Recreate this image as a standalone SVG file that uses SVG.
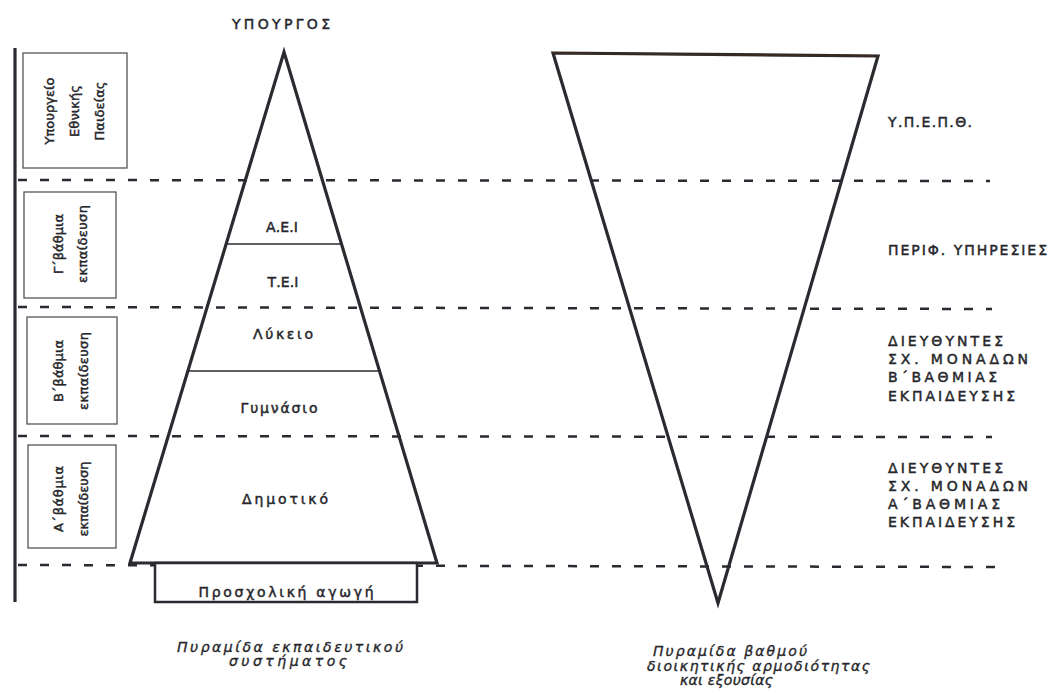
<svg xmlns="http://www.w3.org/2000/svg" width="1055" height="693" viewBox="0 0 1055 693">
<style>
.t{font-family:"DejaVu Sans","Liberation Sans",sans-serif;font-size:14px;fill:#26262b;stroke:#26262b;stroke-width:0.45}
.s{font-size:13px}
.c{text-anchor:middle}
.i{font-family:"DejaVu Sans","Liberation Sans",sans-serif;font-style:italic;font-size:14px;fill:#26262b;stroke:#26262b;stroke-width:0.35}
.dash{stroke:#2a2a30;stroke-width:2.5;stroke-dasharray:9 13;fill:none}
.thick{stroke:#2a2a30;stroke-width:3.2;fill:none;stroke-linejoin:miter}
.thin{stroke:#2a2a30;stroke-width:1.4;fill:none}
.box{stroke:#55555a;stroke-width:1.3;fill:#fff}
</style>
<rect width="1055" height="693" fill="#fff"/>
<g id="connectors">
<line x1="15" y1="48" x2="15" y2="602" class="thick"/>
<line x1="18" y1="180" x2="990" y2="181" class="dash"/>
<line x1="18" y1="307" x2="992" y2="309" class="dash"/>
<line x1="18" y1="436" x2="992" y2="437" class="dash"/>
<line x1="18" y1="565" x2="996" y2="567" class="dash"/>
</g>
<g id="box-ypourgeio">
<rect x="23" y="53" width="104" height="115" class="box"/>
<g transform="translate(75,111) rotate(-90)">
<text class="t s c" x="0" y="-21" textLength="67">Υπουργείο</text>
<text class="t s c" x="0" y="4" textLength="52">Εθνικής</text>
<text class="t s c" x="0" y="29" textLength="59">Παιδείας</text>
</g>
</g>
<g id="box-g">
<rect x="24" y="192" width="92" height="106" class="box"/>
<g transform="translate(71,244) rotate(-90)">
<text class="t s c" x="0" y="-8" textLength="60">Γ΄βάθμια</text>
<text class="t s c" x="0" y="16" textLength="78">εκπαίδευση</text>
</g>
</g>
<g id="box-b">
<rect x="27" y="317" width="90" height="107" class="box"/>
<g transform="translate(71,371) rotate(-90)">
<text class="t s c" x="0" y="-8" textLength="62">Β΄βάθμια</text>
<text class="t s c" x="0" y="17" textLength="78">εκπαίδευση</text>
</g>
</g>
<g id="box-a">
<rect x="28" y="445" width="88" height="103" class="box"/>
<g transform="translate(71,499) rotate(-90)">
<text class="t s c" x="0" y="-8" textLength="66">Α΄βάθμια</text>
<text class="t s c" x="0" y="17" textLength="75">εκπαίδευση</text>
</g>
</g>
<g id="title-ypourgos">
<text class="t c" x="281" y="29" textLength="98">ΥΠΟΥΡΓΟΣ</text>
</g>
<g id="pyramid-education">
<polygon points="284,52 437,563 130,563" class="thick"/>
<line x1="226" y1="244" x2="342" y2="244" class="thin"/>
<line x1="189" y1="371" x2="380" y2="371" class="thin"/>
<text class="t c" x="282" y="232" textLength="32">Α.Ε.Ι</text>
<text class="t c" x="283" y="287" textLength="31">Τ.Ε.Ι</text>
<text class="t c" x="283" y="339" textLength="60">Λύκειο</text>
<text class="t c" x="279" y="413" textLength="77">Γυμνάσιο</text>
<text class="t c" x="285" y="504" textLength="86">Δημοτικό</text>
</g>
<g id="box-prosxoliki">
<rect x="155" y="563" width="262" height="39" fill="#fff" stroke="#2a2a30" stroke-width="2.5"/>
<text class="t c" x="286" y="597" textLength="175">Προσχολική αγωγή</text>
</g>
<g id="pyramid-authority">
<polygon points="553,53 878,56 718,603" fill="none" stroke="#2a2a30" stroke-width="3.2" stroke-linejoin="miter"/>
<line x1="553" y1="53" x2="878" y2="56" stroke="#3a2a20" stroke-width="2"/>
</g>
<g id="labels-right">
<text class="t" x="888" y="127" textLength="84">Υ.Π.Ε.Π.Θ.</text>
<text class="t" x="888" y="255" textLength="159">ΠΕΡΙΦ. ΥΠΗΡΕΣΙΕΣ</text>
<text class="t" x="888" y="346" textLength="115">ΔΙΕΥΘΥΝΤΕΣ</text>
<text class="t" x="888" y="364" textLength="140">ΣΧ. ΜΟΝΑΔΩΝ</text>
<text class="t" x="888" y="382" textLength="109">Β΄ΒΑΘΜΙΑΣ</text>
<text class="t" x="888" y="401" textLength="127">ΕΚΠΑΙΔΕΥΣΗΣ</text>
<text class="t" x="888" y="473" textLength="115">ΔΙΕΥΘΥΝΤΕΣ</text>
<text class="t" x="888" y="491" textLength="140">ΣΧ. ΜΟΝΑΔΩΝ</text>
<text class="t" x="888" y="509" textLength="112">Α΄ΒΑΘΜΙΑΣ</text>
<text class="t" x="888" y="527" textLength="127">ΕΚΠΑΙΔΕΥΣΗΣ</text>
</g>
<g id="caption-left">
<text class="i" x="177" y="652" textLength="226">Πυραμίδα εκπαιδευτικού</text>
<text class="i" x="229" y="666" textLength="118">συστήματος</text>
</g>
<g id="caption-right">
<text class="i" x="653" y="656" textLength="154">Πυραμίδα βαθμού</text>
<text class="i" x="647" y="671" textLength="223">διοικητικής αρμοδιότητας</text>
<text class="i" x="680" y="685" textLength="93">και εξουσίας</text>
</g>
</svg>
